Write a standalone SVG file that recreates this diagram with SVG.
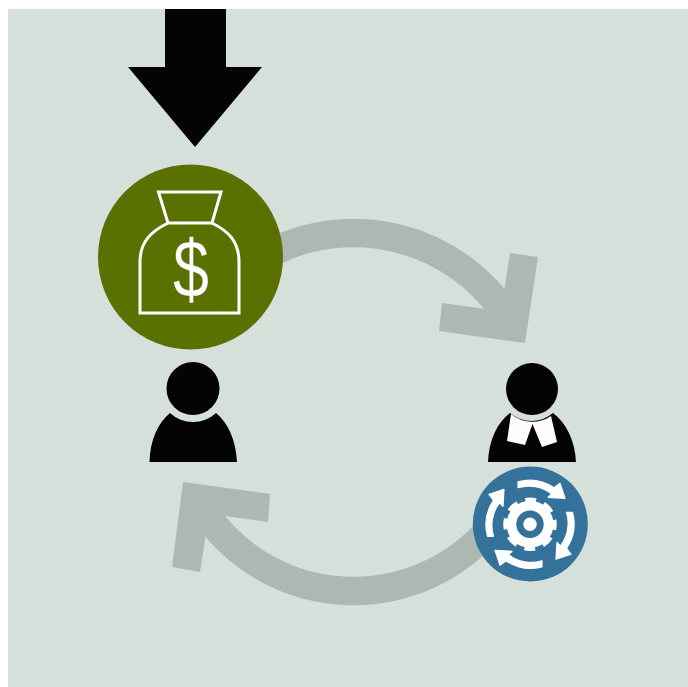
<svg xmlns="http://www.w3.org/2000/svg" width="688" height="687" viewBox="0 0 688 687">
<style>
.flow{fill:none;stroke:#aeb8b2;stroke-width:28.5}
.head{fill:#aeb8b2}
.blk{fill:#040404}
.wl{fill:none;stroke:#fff;stroke-width:3;stroke-linejoin:miter}
.w{fill:#fff}
.cy{fill:#fff;stroke:#fff;stroke-width:1.2;stroke-linejoin:round}
.dollar{font-family:"Liberation Sans",Arial,sans-serif;font-size:82px;fill:#fff;stroke:#5a7000;stroke-width:.3;text-anchor:middle}
</style>
<defs>
<path id="cyc" class="cy" d="M-12,-42.5 A44 44 0 0 1 24,-36.5 L30,-41 L35,-26 L18,-27 L21.5,-30.5 A37 37 0 0 0 -12,-36.5 Z"/>
</defs>
<rect width="688" height="687" fill="#fff"/>
<rect x="8" y="9" width="680" height="678" fill="#d5e0da"/>
<g id="connectors">
<path class="flow" d="M270 253 A183.6 183.6 0 0 1 505 313"/>
<polygon class="head" points="510,253 538,257 525,343 439,331 442,303 501,311"/>
<path class="flow" d="M490 528.5 A180.3 180.3 0 0 1 205 513"/>
<polygon class="head" points="183,482 270,494 268,522 209,514 200,572 172,567"/>
<polygon class="blk" points="165,9 226,9 226,67 262,67 195,147 128,67 165,67"/>
</g>
<g id="money">
<circle cx="190.5" cy="257" r="92.5" fill="#5a7000"/>
<path class="wl" d="M158.5 192 H221 L212 223 H168 Z"/>
<path class="wl" d="M168 223 C152 231 140 241 140 262 V313 H239 V262 C239 241 228 231 212 223"/>
<text class="dollar" transform="translate(191 297) scale(.79 1)">$</text>
</g>
<g id="person">
<circle class="blk" cx="193" cy="388.5" r="26.5"/>
<path class="blk" d="M149.5 462 C150 440 158 423 170 413 A33.6 33.6 0 0 0 216 413 C228 423 236 440 237 462 Z"/>
</g>
<g id="judge">
<circle class="blk" cx="532" cy="389" r="26"/>
<path class="blk" d="M488 462 C489 440 497 423 510 413 A33 33 0 0 0 553 413 C566 423 575 440 576 462 Z"/>
<path fill="#fcfdfc" d="M511 414 A33 33 0 0 0 551 416 L557 442 L542 447 L532.5 424 L525 445 L507 441 Z"/>
</g>
<g id="process">
<circle cx="530.3" cy="524" r="57.5" fill="#34729c"/>
<g transform="translate(530 524.3)">
<circle class="w" r="23.5"/>
<circle r="24.5" fill="none" stroke="#fff" stroke-width="4.5" stroke-dasharray="11 8.24" stroke-dashoffset="5.5" stroke-linecap="butt"/>
<circle r="13.7" fill="#34729c"/>
<circle class="w" r="6.7"/>
<use href="#cyc"/>
<use href="#cyc" transform="rotate(90)"/>
<use href="#cyc" transform="rotate(180)"/>
<use href="#cyc" transform="rotate(270)"/>
</g>
</g>
</svg>
